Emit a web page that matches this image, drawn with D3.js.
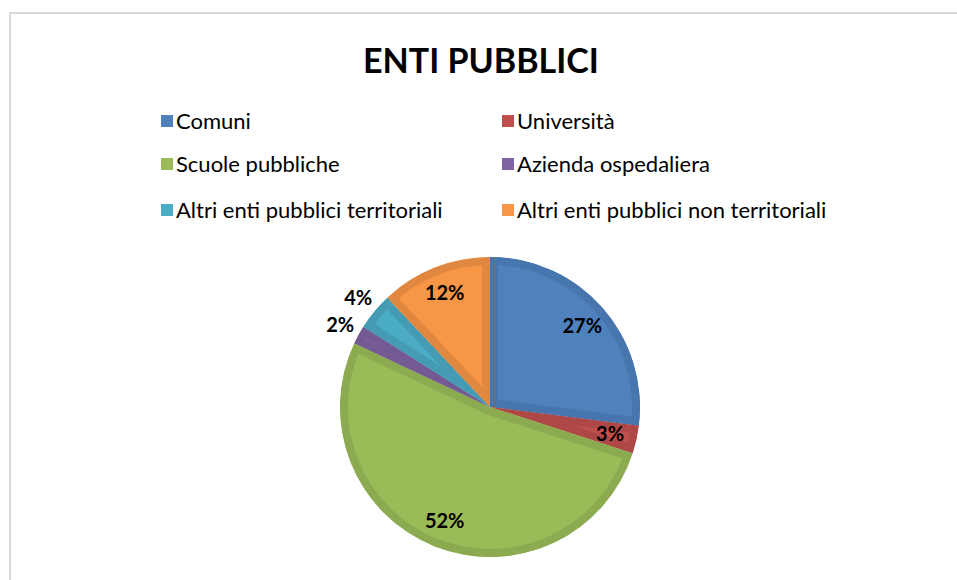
<!DOCTYPE html>
<html>
<head>
<meta charset="utf-8">
<script src="https://cdn.jsdelivr.net/npm/d3@7"></script>
<style>
  body { margin: 0; background: #fff; }
  svg { display: block; font-family: Lato, "Open Sans", sans-serif; }
</style>
</head>
<body>
<svg id="chart" width="957" height="580"></svg>
<script>
'use strict';

// data
var chartTitle = "ENTI PUBBLICI";
var categories = ["Comuni", "Università", "Scuole pubbliche", "Azienda ospedaliera",
                  "Altri enti pubblici territoriali", "Altri enti pubblici non territoriali"];
var values = [27, 3, 52, 2, 4, 12];
var fillColors = ["#4F81BD", "#C0504D", "#9BBB59", "#8064A2", "#4BACC6", "#F79646"];
var edgeColors = ["#4775ad", "#ad4846", "#8caa50", "#735a92", "#449bb3", "#e0883f"];
// slices whose label sits outside the pie
var outsideLabels = ["Azienda ospedaliera", "Altri enti pubblici territoriali"];

var width = 957, height = 580;
var svg = d3.select("#chart");

/*=====  frame  ======*/
svg.append("rect")
    .attr("x", 10).attr("y", 13)
    .attr("width", width).attr("height", height)
    .attr("fill", "none")
    .attr("stroke", "#d9d9d9")
    .attr("stroke-width", 2);

/*=====  title  ======*/
svg.append("text")
    .attr("x", 481).attr("y", 73)
    .attr("text-anchor", "middle")
    .style("font-size", "34px")
    .style("font-weight", "bold")
    .attr("fill", "#000")
    .text(chartTitle);

/*=====  legend  ======*/
var colX = [161, 502], rowY = [121, 164, 210];
var legend = svg.append("g").attr("class", "legend");
var item = legend.selectAll("g")
    .data(categories)
    .enter().append("g")
    .attr("transform", function (d, i) {
        return "translate(" + colX[i % 2] + "," + rowY[Math.floor(i / 2)] + ")";
    });
item.append("rect")
    .attr("x", 0).attr("y", -6)
    .attr("width", 12).attr("height", 12)
    .attr("fill", function (d, i) { return fillColors[i]; });
item.append("text")
    .attr("x", 15).attr("y", 8)
    .style("font-size", "22px")
    .attr("fill", "#000")
    .text(function (d) { return d; });

/*=====  pie  ======*/
var cx = 490, cy = 407, radius = 150;
var pie = d3.pie().sort(null).value(function (d) { return d; });
var arc = d3.arc().innerRadius(0).outerRadius(radius);
var arcs = pie(values);

var g = svg.append("g").attr("transform", "translate(" + cx + "," + cy + ")");
var defs = svg.append("defs");

arcs.forEach(function (a, i) {
    defs.append("clipPath").attr("id", "clip" + i)
        .append("path").attr("d", arc(a));
});

g.selectAll("path.slice")
    .data(arcs)
    .enter().append("path")
    .attr("class", "slice")
    .attr("d", arc)
    .attr("clip-path", function (d, i) { return "url(#clip" + i + ")"; })
    .attr("fill", function (d, i) { return fillColors[i]; })
    .attr("stroke", function (d, i) { return edgeColors[i]; })
    .attr("stroke-width", 16)
    .attr("stroke-linejoin", "miter");

/*=====  data labels  ======*/
var inArc = d3.arc().innerRadius(radius * 0.82).outerRadius(radius * 0.82);
var outArc = d3.arc().innerRadius(radius * 1.14).outerRadius(radius * 1.14);
var total = d3.sum(values);

g.selectAll("text.label")
    .data(arcs)
    .enter().append("text")
    .attr("class", "label")
    .attr("transform", function (d, i) {
        var c = outsideLabels.indexOf(categories[i]) >= 0 ? outArc.centroid(d) : inArc.centroid(d);
        return "translate(" + c[0] + "," + c[1] + ")";
    })
    .attr("text-anchor", "middle")
    .attr("dy", "0.35em")
    .style("font-size", "20px")
    .style("font-weight", "bold")
    .attr("fill", "#000")
    .text(function (d) { return Math.round(d.value / total * 100) + "%"; });
</script>
</body>
</html>
